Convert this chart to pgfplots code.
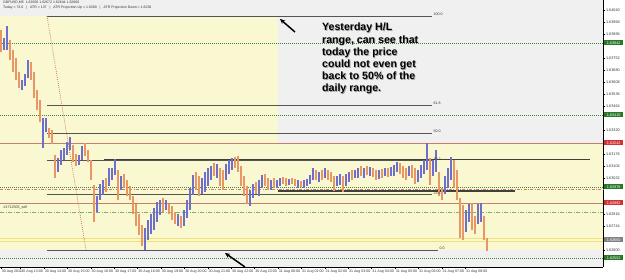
\documentclass[border=0pt]{standalone}
\usepackage{pgfplots}
\usepackage{pgfplotstable}
\pgfplotsset{compat=1.18}
\usetikzlibrary{arrows.meta}
\usepackage{fontspec}
\setmainfont{Liberation Sans}
\definecolor{bggray}{RGB}{240,240,240}
\definecolor{bgyellow}{RGB}{250,248,208}
\definecolor{fibcol}{RGB}{85,85,85}
\definecolor{redline}{RGB}{196,128,108}
\definecolor{greenline}{RGB}{60,140,60}
\definecolor{greendash}{RGB}{120,180,100}
\definecolor{goldline}{RGB}{240,222,120}
\definecolor{upcol}{RGB}{110,110,205}
\definecolor{downcol}{RGB}{232,150,100}
\definecolor{diagcol}{RGB}{200,110,80}
\definecolor{lblgreen}{RGB}{40,120,40}
\definecolor{lblred}{RGB}{210,50,50}

\pgfplotstableread{
x lo hi
4 1.63800 1.63872
7 1.63800 1.63944
22 1.63560 1.63620
25 1.63584 1.63656
28 1.63632 1.63740
43 1.63212 1.63392
46 1.63308 1.63392
58 1.63068 1.63152
61 1.63110 1.63200
64 1.63140 1.63212
67 1.63170 1.63248
70 1.63200 1.63278
79 1.63110 1.63170
82 1.63140 1.63224
97 1.62828 1.62924
100 1.62900 1.62996
103 1.62930 1.63020
109 1.62984 1.63092
112 1.63020 1.63092
115 1.63050 1.63146
121 1.62960 1.63044
145 1.62600 1.62732
148 1.62660 1.62780
151 1.62696 1.62816
154 1.62720 1.62852
157 1.62768 1.62888
160 1.62810 1.62900
166 1.62840 1.62900
178 1.62744 1.62816
184 1.62744 1.62840
187 1.62792 1.62900
190 1.62840 1.62972
193 1.62930 1.63050
202 1.62936 1.63032
205 1.62948 1.63068
208 1.62984 1.63092
211 1.63020 1.63104
217 1.63032 1.63116
226 1.63020 1.63116
229 1.63056 1.63140
232 1.63080 1.63152
250 1.62864 1.62960
253 1.62912 1.62996
259 1.62924 1.63020
262 1.62972 1.63050
271 1.62960 1.63020
277 1.62972 1.63020
280 1.62984 1.63032
289 1.62990 1.63026
298 1.62972 1.63020
304 1.62972 1.63020
307 1.62984 1.63026
310 1.62996 1.63050
313 1.63020 1.63092
319 1.63008 1.63068
325 1.63032 1.63092
337 1.62984 1.63044
340 1.62990 1.63056
346 1.62984 1.63056
349 1.63008 1.63068
355 1.63032 1.63080
358 1.63032 1.63092
364 1.63032 1.63092
370 1.63044 1.63098
379 1.63026 1.63080
385 1.63044 1.63092
391 1.63044 1.63098
394 1.63044 1.63110
397 1.63068 1.63128
409 1.63044 1.63104
418 1.63008 1.63080
421 1.63032 1.63110
424 1.63056 1.63140
427 1.63080 1.63242
433 1.63044 1.63140
436 1.63068 1.63200
445 1.62936 1.63044
448 1.62972 1.63092
451 1.63020 1.63158
466 1.62708 1.62840
469 1.62768 1.62876
478 1.62756 1.62876
481 1.62768 1.62882
}\upbars

\pgfplotstableread{
x lo hi
1 1.63788 1.63920
10 1.63740 1.63860
13 1.63668 1.63800
16 1.63620 1.63752
19 1.63572 1.63668
31 1.63620 1.63728
34 1.63512 1.63668
37 1.63440 1.63560
40 1.63368 1.63500
49 1.63272 1.63332
52 1.63236 1.63320
55 1.63032 1.63170
73 1.63128 1.63230
76 1.63104 1.63176
85 1.63164 1.63242
88 1.63128 1.63200
91 1.63020 1.63140
94 1.62768 1.62990
106 1.62948 1.63032
118 1.62900 1.63080
124 1.62972 1.63056
127 1.62924 1.63020
130 1.62900 1.62984
133 1.62816 1.62924
136 1.62744 1.62876
139 1.62690 1.62816
142 1.62624 1.62750
163 1.62828 1.62912
169 1.62816 1.62876
172 1.62780 1.62864
175 1.62756 1.62828
181 1.62732 1.62804
196 1.62960 1.63068
199 1.62924 1.63044
214 1.63044 1.63122
220 1.62984 1.63092
223 1.62960 1.63080
235 1.63092 1.63158
238 1.63068 1.63164
241 1.62984 1.63104
244 1.62924 1.63044
247 1.62876 1.62984
256 1.62936 1.63008
265 1.62984 1.63056
268 1.62960 1.63032
274 1.62972 1.63032
283 1.62996 1.63038
286 1.62984 1.63032
292 1.62996 1.63032
295 1.62984 1.63026
301 1.62978 1.63014
316 1.63020 1.63080
322 1.63020 1.63080
328 1.63020 1.63080
331 1.63008 1.63068
334 1.62954 1.63044
343 1.62948 1.63044
352 1.63020 1.63080
361 1.63044 1.63104
367 1.63050 1.63104
373 1.63038 1.63092
376 1.63020 1.63080
382 1.63032 1.63086
388 1.63038 1.63092
400 1.63056 1.63122
403 1.63032 1.63104
406 1.63020 1.63092
412 1.63032 1.63110
415 1.62996 1.63092
430 1.62990 1.63152
439 1.62924 1.63068
442 1.62900 1.62972
454 1.62972 1.63140
457 1.62900 1.63080
460 1.62672 1.62912
463 1.62660 1.62870
472 1.62720 1.62882
475 1.62696 1.62804
484 1.62660 1.62804
487 1.62594 1.62672
}\downbars

\begin{document}
\begin{tikzpicture}
\useasboundingbox (0,0) rectangle (625pt,279pt);
\begin{axis}[
  at={(0,12pt)}, anchor=south west,
  scale only axis, width=603pt, height=267pt,
  xmin=0, xmax=603, ymin=1.62498, ymax=1.64100,
  axis x line*=bottom, axis y line*=right,
  axis line style={black, line width=0.6pt},
  axis background/.style={fill=bggray},
  clip=false,
  tick align=outside, major tick length=2pt,
  tick style={black, line width=0.4pt},
  /pgf/number format/assume math mode=true,
  xtick={1,20.6,44,67.4,90.8,114.2,137.6,161,184.4,207.8,231.2,254.6,278,301.4,324.8,348.2,371.6,395,418.4,441.8,465.2},
  xticklabels={30 Aug 2011,30 Aug 13:00,30 Aug 14:00,30 Aug 15:00,30 Aug 16:00,30 Aug 17:00,30 Aug 18:00,30 Aug 19:00,30 Aug 20:00,30 Aug 21:00,30 Aug 22:00,30 Aug 23:00,31 Aug 00:00,31 Aug 01:00,31 Aug 02:00,31 Aug 03:00,31 Aug 04:00,31 Aug 05:00,31 Aug 06:00,31 Aug 07:00,31 Aug 08:00},
  xticklabel style={anchor=north west, font=\fontsize{3.6}{4}\selectfont, inner sep=0.6pt, text=black!80},
  ytick={1.64040,1.63968,1.63896,1.63752,1.63680,1.63608,1.63536,1.63464,1.63320,1.63176,1.63104,1.63032,1.62816,1.62744,1.62600},
  yticklabels={1.64040,1.63968,1.63896,1.63752,1.63680,1.63608,1.63536,1.63464,1.63320,1.63176,1.63104,1.63032,1.62816,1.62744,1.62600},
  yticklabel style={anchor=west, font=\fontsize{3.8}{4}\selectfont, inner sep=0.8pt, text=black!80},
]
% backgrounds
\addplot[fill=bgyellow, draw=none, forget plot] coordinates {(0,1.62600) (278,1.62600) (278,1.64004) (0,1.64004)} -- cycle;
\addplot[fill=bgyellow, draw=none, forget plot] coordinates {(278,1.62600) (603,1.62600) (603,1.63242) (278,1.63242)} -- cycle;
% gold current price band
\addplot[goldline, line width=0.9pt, forget plot] coordinates {(0,1.62672) (603,1.62672)};
\addplot[goldline, line width=0.9pt, forget plot] coordinates {(0,1.62654) (603,1.62654)};
% green dotted lines
\addplot[greenline, line width=0.6pt, dash pattern=on 0.8pt off 1.2pt, forget plot] coordinates {(0,1.63842) (603,1.63842)};
\addplot[greenline, line width=0.6pt, dash pattern=on 0.8pt off 1.2pt, forget plot] coordinates {(0,1.63410) (603,1.63410)};
\addplot[greenline, line width=0.6pt, dash pattern=on 0.8pt off 1.2pt, forget plot] coordinates {(0,1.62978) (603,1.62978)};
\addplot[greenline, line width=0.6pt, dash pattern=on 0.8pt off 1.2pt, forget plot] coordinates {(0,1.62552) (603,1.62552)};
\addplot[redline, line width=0.5pt, dash pattern=on 3pt off 1.5pt on 0.8pt off 1.5pt, forget plot] coordinates {(0,1.62966) (603,1.62966)};
\addplot[greendash, line width=0.6pt, dash pattern=on 4pt off 1.5pt on 1pt off 1.5pt, forget plot] coordinates {(0,1.62828) (603,1.62828)};
% red solid lines
\addplot[redline, line width=0.9pt, forget plot] coordinates {(0,1.63242) (603,1.63242)};
\addplot[redline, line width=0.9pt, forget plot] coordinates {(0,1.62882) (603,1.62882)};
% fibonacci levels
\addplot[fibcol, line width=0.7pt, forget plot] coordinates {(47,1.64004) (432,1.64004)};
\addplot[fibcol, line width=0.7pt, forget plot] coordinates {(47,1.63468) (432,1.63468)};
\addplot[fibcol, line width=0.7pt, forget plot] coordinates {(47,1.63302) (432,1.63302)};
\addplot[fibcol, line width=0.7pt, forget plot] coordinates {(47,1.63136) (432,1.63136)};
\addplot[fibcol, line width=0.7pt, forget plot] coordinates {(47,1.62931) (432,1.62931)};
\addplot[fibcol, line width=0.7pt, forget plot] coordinates {(47,1.62600) (438,1.62600)};
\addplot[black!75, line width=1.1pt, forget plot] coordinates {(104,1.63142) (590,1.63142)};
\addplot[black!75, line width=1.1pt, forget plot] coordinates {(278,1.62954) (515,1.62954)};
% diagonal trendline
\addplot[diagcol, line width=0.7pt, dash pattern=on 0.8pt off 1.2pt, forget plot] coordinates {(47,1.64004) (86,1.62600)};
% price bars
\addplot[draw=none, forget plot, error bars/.cd, y dir=plus, y explicit, error mark=none,
  error bar style={draw=upcol, line width=1.15pt}]
  table[x=x, y=lo, y error expr=\thisrow{hi}-\thisrow{lo}] {\upbars};
\addplot[draw=none, forget plot, error bars/.cd, y dir=plus, y explicit, error mark=none,
  error bar style={draw=downcol, line width=1.15pt}]
  table[x=x, y=lo, y error expr=\thisrow{hi}-\thisrow{lo}] {\downbars};

% fib labels
\begin{scope}[every node/.style={font=\fontsize{3.6}{4}\selectfont, inner sep=0.3pt, anchor=south west, text=black!80}]
\node at (axis cs:433,1.64004) {100.0};
\node at (axis cs:433,1.63468) {61.8};
\node at (axis cs:433,1.63302) {50.0};
\node at (axis cs:433,1.63136) {38.2};
\node at (axis cs:433,1.62931) {23.6};
\node at (axis cs:439,1.62600) {0.0};
\node at (axis cs:3,1.62840) {\#1712505\_sell};
\end{scope}
% header
\node[anchor=north west, align=left, inner sep=0pt, font=\fontsize{3.5}{4.6}\selectfont, text=black!80] at (axis cs:3,1.64094)
  {GBPUSD,M5\ \ 1.62650 1.62672 1.62644 1.62660\\Today = 73.0\ \ \ |\ \ \ ATR = 137\ \ \ |\ \ \ ATR Projection Up = 1.6390\ \ \ |\ \ \ ATR Projection Down = 1.6230};
% right price labels
\begin{scope}[every node/.style={font=\fontsize{3.8}{4}\selectfont, inner sep=0.6pt, anchor=west, text=white, minimum width=19pt, minimum height=5pt}]
\node[fill=lblgreen] at ([xshift=1pt]axis cs:603,1.63842) {1.63842};
\node[fill=lblgreen] at ([xshift=1pt]axis cs:603,1.63410) {1.63410};
\node[fill=lblred] at ([xshift=1pt]axis cs:603,1.63242) {1.63242};
\node[fill=lblgreen] at ([xshift=1pt]axis cs:603,1.62978) {1.62978};
\node[fill=lblred] at ([xshift=1pt]axis cs:603,1.62882) {1.62882};
\node[fill=gray] at ([xshift=1pt]axis cs:603,1.62660) {1.62660};
\node[fill=lblgreen] at ([xshift=1pt]axis cs:603,1.62552) {1.62552};
\end{scope}
% annotation
\node[anchor=north west, align=left, inner sep=0pt, text=black!35, font=\fontsize{10.6}{12.2}\selectfont\bfseries] at ([xshift=0.8pt,yshift=-0.8pt]axis cs:322,1.63962)
  {Yesterday H/L\\range, can see that\\today the price\\could not even get\\back to 50\% of the\\daily range.};
\node[anchor=north west, align=left, inner sep=0pt, text=black, font=\fontsize{10.6}{12.2}\selectfont\bfseries] at (axis cs:322,1.63962)
  {Yesterday H/L\\range, can see that\\today the price\\could not even get\\back to 50\% of the\\daily range.};
% arrows
\draw[-{Stealth[length=5pt,width=4.5pt]}, line width=1.5pt, black] (axis cs:295,1.63908) -- (axis cs:280,1.63986);
\draw[-{Stealth[length=5pt,width=4.5pt]}, line width=1.5pt, black] (axis cs:245,1.62498) -- (axis cs:225,1.62582);
\end{axis}
\end{tikzpicture}
\end{document}
